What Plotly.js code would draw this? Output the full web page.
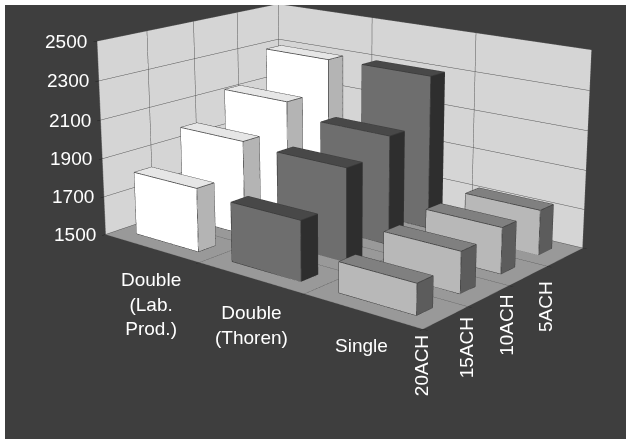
<!DOCTYPE html>
<html><head><meta charset="utf-8">
<script src="https://cdn.plot.ly/plotly-3.0.1.min.js"></script>
<style>html,body{margin:0;padding:0;background:#fff;overflow:hidden}
#clip{position:absolute;left:5px;top:5px;width:621px;height:434px;overflow:hidden;background:#3e3e3e}
#c{position:absolute}</style></head>
<body><div id="clip"><div id="c"></div></div>
<script>
const families=['Double<br>(Lab.<br>Prod.)','Double<br>(Thoren)','Single'];
const rates=['20ACH','15ACH','10ACH','5ACH'];
const labProd=[1825,1990,2130,2295];
const thoren=[1800,1975,2060,2300];
const single=[1650,1705,1730,1730];
const zticks=[1500,1700,1900,2100,2300,2500];
const seriesValues=[labProd,thoren,single];
const topColors=['#e6e6e6','#484848','#808080'];
const frontColors=['#ffffff','#6e6e6e','#b8b8b8'];
const sideColors=['#b4b4b4','#2e2e2e','#5c5c5c'];
const famShift=[[0,-56],[1,-47],[-1,-35]];
const rateShift=[[-24,-48],[-22,-52],[-21,-50],[-19,-50]];
const W=1768,H=1240,cxPage=341,cyPage=145;
const el=document.getElementById('c');
el.style.left=(cxPage-5-W/2)+'px';el.style.top=(cyPage-5-H/2)+'px';el.style.width=W+'px';el.style.height=H+'px';
const base=1500,halfX=0.33,halfY=0.18;
const traces=[];
const edges=[[0,1],[1,2],[2,3],[3,0],[4,5],[5,6],[6,7],[7,4],[0,4],[1,5],[2,6],[3,7]];
function box(cx,cy,h,ct,cf,cs){
  const x0=cx-halfX,x1=cx+halfX,y0=cy-halfY,y1=cy+halfY;
  const x=[x0,x1,x1,x0,x0,x1,x1,x0],y=[y0,y0,y1,y1,y0,y0,y1,y1],z=[base,base,base,base,h,h,h,h];
  const f=[[4,5,6,ct],[4,6,7,ct],[0,1,5,cf],[0,5,4,cf],[1,2,6,cs],[1,6,5,cs],[0,1,2,cs],[0,2,3,cs],[3,2,6,cs],[3,6,7,cs],[0,3,7,cs],[0,7,4,cs]];
  traces.push({type:'mesh3d',x,y,z,i:f.map(a=>a[0]),j:f.map(a=>a[1]),k:f.map(a=>a[2]),facecolor:f.map(a=>a[3]),flatshading:true,
    lighting:{ambient:1,diffuse:0,specular:0,fresnel:0,roughness:1},hoverinfo:'skip',showscale:false});
  const lx=[],ly=[],lz=[];
  edges.forEach(([a,b])=>{lx.push(x[a],x[b],null);ly.push(y[a],y[b],null);lz.push(z[a],z[b],null);});
  traces.push({type:'scatter3d',mode:'lines',x:lx,y:ly,z:lz,line:{color:'#3a3a3a',width:1.5},hoverinfo:'skip',showlegend:false});
}
seriesValues.forEach((vals,i)=>vals.forEach((v,j)=>box(i,j,v,topColors[i],frontColors[i],sideColors[i])));
const font={color:'#fff',size:19,family:'Liberation Sans, Arial, sans-serif'};
const anns=[];
families.forEach((t,i)=>anns.push({x:i,y:-0.5,z:base,text:t,showarrow:false,font,xshift:famShift[i][0],yshift:famShift[i][1]}));
rates.forEach((t,j)=>anns.push({x:2.5,y:j,z:base,text:t,showarrow:false,textangle:-90,font,xshift:rateShift[j][0],yshift:rateShift[j][1]}));
zticks.forEach(v=>anns.push({x:-0.5,y:-0.5,z:v,text:String(v),showarrow:false,font,xshift:-31,yshift:0}));
const ax=(extra)=>Object.assign({showbackground:true,backgroundcolor:'#d5d5d5',gridcolor:'#555',gridwidth:1,showline:true,linecolor:'#888',linewidth:1,zeroline:false,showspikes:false,title:{text:''},showticklabels:false,ticks:'outside',ticklen:4,tickcolor:'#222'},extra);
const layout={width:W,height:H,margin:{l:0,r:0,t:0,b:0},paper_bgcolor:'#3e3e3e',showlegend:false,
 scene:{bgcolor:'#3e3e3e',aspectmode:'manual',aspectratio:{x:1.97,y:1.33,z:0.99},
  camera:{eye:{x:4.43,y:-5.47,z:1.94},center:{x:0,y:0,z:0},up:{x:0,y:0,z:1}},
  xaxis:ax({range:[-0.5,2.5],tickvals:[-0.5,0.5,1.5,2.5]}),
  yaxis:ax({range:[-0.5,3.5],tickvals:[-0.5,0.5,1.5,2.5,3.5]}),
  zaxis:ax({range:[1500,2500],tickvals:zticks,backgroundcolor:'#999'}),
  annotations:anns}};
Plotly.newPlot('c',traces,layout,{displayModeBar:false});
</script></body></html>
